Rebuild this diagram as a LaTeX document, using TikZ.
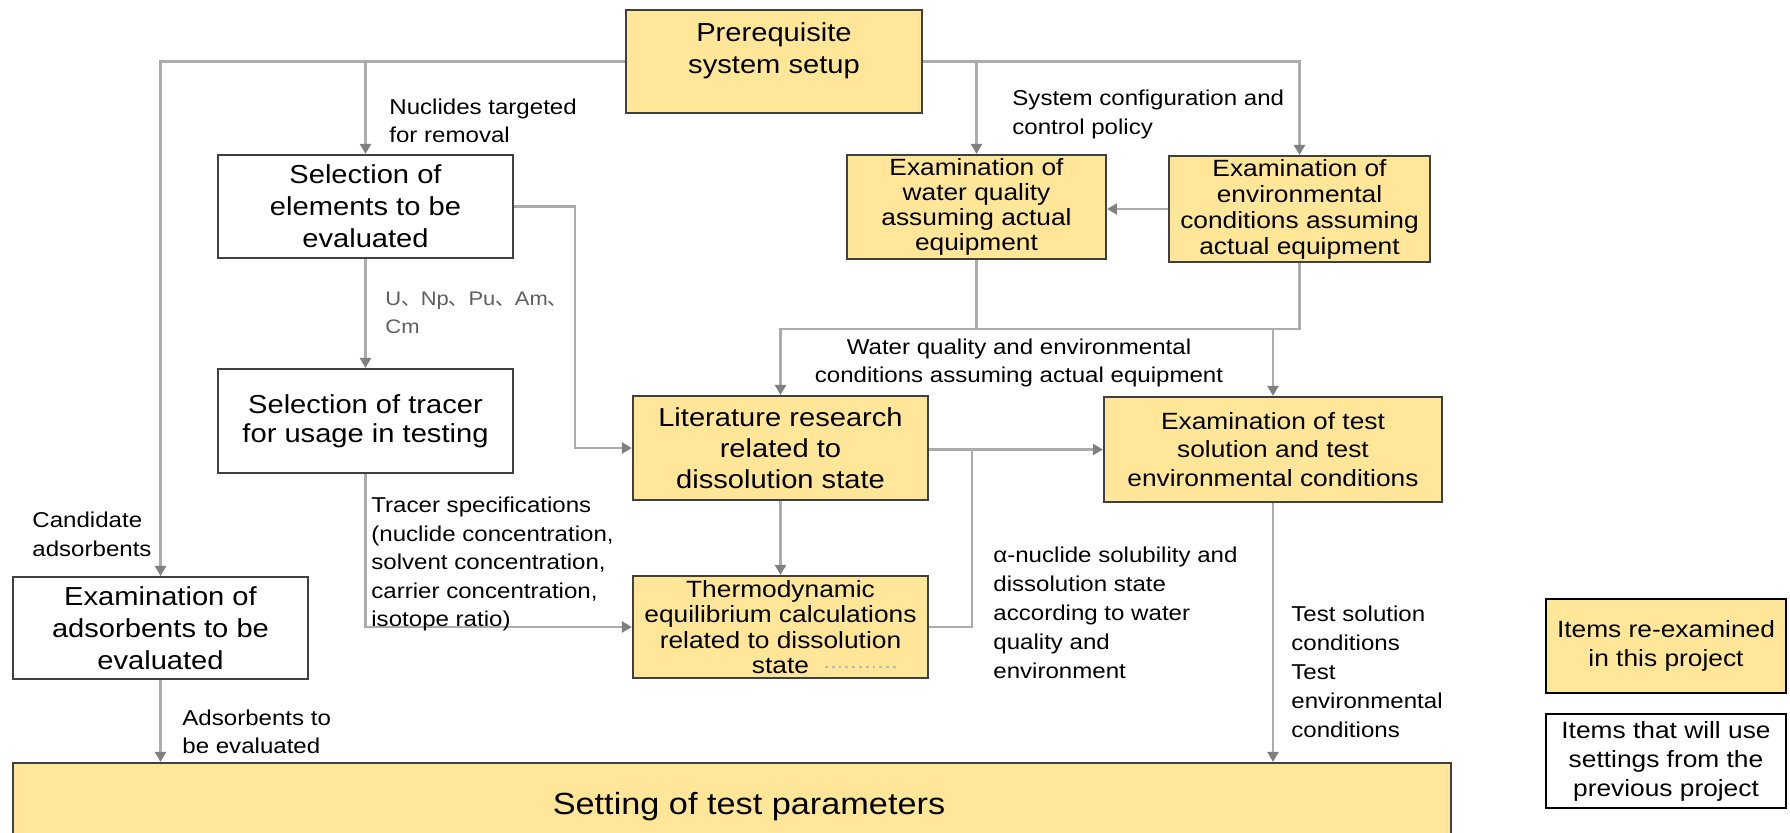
\documentclass[tikz,border=0pt]{standalone}
\usepackage{fontspec}
\setmainfont{Liberation Sans}[FakeStretch=1.12]
\newfontfamily\cjkfont{Noto Sans CJK JP}
\usetikzlibrary{arrows.meta, calc}
\definecolor{ItemYellow}{RGB}{255, 230, 153}
\definecolor{BoxEdge}{RGB}{64, 64, 64}
\definecolor{LinkGray}{RGB}{172, 172, 172}
\definecolor{TipGray}{RGB}{128, 128, 128}
\definecolor{NoteGray}{RGB}{95, 95, 95}
\newcommand{\bxf}[1]{\fontsize{11.75}{#1}\selectfont}
\newcommand{\bgf}[1]{\fontsize{13}{#1}\selectfont}
\newcommand{\lbf}[1]{\fontsize{10.75}{#1}\selectfont}
\newcommand{\ics}{{\cjkfont 、}}

\begin{document}
\begin{tikzpicture}[
    x=0.5pt, y=-0.5pt,
    item/.style={draw=BoxEdge, line width=1.1pt, fill=ItemYellow, align=center, inner sep=0pt},
    prev/.style={item, fill=white},
    legend/.style={item, draw=black, line width=1.3pt, minimum width=120pt, minimum height=47pt, font=\bxf{14.5}},
    note/.style={align=left, inner sep=0pt, anchor=north west},
    link/.style={draw=LinkGray, line width=1.2pt},
    flow/.style={link, -{Triangle[length=5pt, width=5.5pt, color=TipGray]}}
  ]
    \useasboundingbox (0,0) rectangle (1790,832);

    % Top
    \node[item, minimum width=148pt, minimum height=51.5pt, font=\bgf{16}] (prq) at (774, 61.5) {Prerequisite\\system setup\\[-3pt]\mbox{}};

    % Left column
    \node[prev, minimum width=147.5pt, minimum height=51.5pt, font=\bgf{16}] (sel) at (365.5, 206.5) {Selection of\\elements to be\\evaluated};
    \node[prev, minimum width=147.5pt, minimum height=52pt, font=\bgf{14.5}] (trc) at (365.5, 421) {Selection of tracer\\for usage in testing};
    \node[prev, minimum width=147.5pt, minimum height=51pt, font=\bgf{16}] (ads) at (160.5, 628) {Examination of\\adsorbents to be\\evaluated};

    % Middle and right
    \node[item, minimum width=129.5pt, minimum height=52pt, font=\bxf{12.6}] (wat) at (976.5, 207) {Examination of\\water quality\\assuming actual\\equipment};
    \node[item, minimum width=130.5pt, minimum height=53pt, font=\bxf{13}] (env) at (1299.5, 209) {Examination of\\environmental\\conditions assuming\\actual equipment};
    \node[item, minimum width=147.5pt, minimum height=52pt, font=\bgf{15.5}] (lit) at (780.5, 448) {Literature research\\related to\\dissolution state};
    \node[item, minimum width=147.5pt, minimum height=51pt, font=\bxf{12.8}] (thm) at (780.5, 627) {Thermodynamic\\equilibrium calculations\\related to dissolution\\state};
    \node[item, minimum width=169pt, minimum height=52.5pt, font=\bxf{14.3}] (tst) at (1273, 449.5) {Examination of test\\solution and test\\environmental conditions};

    % Bottom
    \node[item, minimum width=719pt, minimum height=44pt, font=\fontsize{15.3}{18}\selectfont] (set) at (732, 807) {\hspace*{17pt}Setting of test parameters};

    % Legend
    \node[legend] (lgnew) at (1666, 646) {Items re-examined\\in this project};
    \node[legend, fill=white] (lgold) at (1666, 761) {Items that will use\\settings from the\\previous project};

    % Junctions
    \coordinate (jwq) at (0, 329);
    \coordinate (jth) at (972, 449);

    % Prerequisite -> left
    \draw[flow] (prq.west) -| (ads.north);
    \draw[flow] (sel.north |- prq.west) -- (sel.north);
    % Prerequisite -> right
    \draw[flow] (prq.east) -| (env.north);
    \draw[flow] (wat.north |- prq.east) -- (wat.north);
    \draw[flow] (env.west) -- (env.west -| wat.east);

    % Elements / tracer
    \draw[flow] (sel.south) -- (trc.north);
    \draw[flow] (sel.east) -- ++(61, 0) |- (lit.west);
    \draw[flow] (trc.south) |- (thm.west);

    % Water quality and environment
    \draw[link] (wat.south) -- (wat.south |- jwq);
    \draw[flow] (env.south) |- (lit.north |- jwq) -- (lit.north);
    \draw[flow] (tst.north |- jwq) -- (tst.north);

    % Dissolution state
    \draw[flow] (lit.south) -- (thm.north);
    \draw[flow] (lit.east |- tst.west) -- (tst.west);
    \draw[link] (thm.east) -| (jth);
    \draw[gray!55, dotted, line width=1.4pt] (825, 667) -- (897, 667);

    % Into the setting
    \draw[flow] (ads.south) -- (ads.south |- set.north);
    \draw[flow] (tst.south) -- (tst.south |- set.north);

    % Labels
    \node[note, font=\lbf{14}] (lnuc) at (389, 99) {Nuclides targeted\\for removal};
    \node[note, font=\fontsize{9.8}{14}\selectfont, text=NoteGray] (lelm) at (385, 292) {U\ics Np\ics Pu\ics Am\ics\\Cm};
    \node[note, font=\lbf{14.25}] (ltrc) at (371, 497) {Tracer specifications\\(nuclide concentration,\\solvent concentration,\\carrier concentration,\\isotope ratio)};
    \node[note, font=\lbf{14.5}] (lcnd) at (32, 512) {Candidate\\adsorbents};
    \node[note, font=\lbf{14}] (lads) at (182, 710) {Adsorbents to\\be evaluated};
    \node[note, font=\lbf{14.5}] (lsys) at (1012, 90) {System configuration and\\control policy};
    \node[align=center, inner sep=0pt, anchor=north, font=\lbf{14}] (lwqe) at (1019, 339) {Water quality and environmental\\conditions assuming actual equipment};
    \node[note, font=\lbf{14.5}] (lalp) at (993, 547) {α-nuclide solubility and\\dissolution state\\according to water\\quality and\\environment};
    \node[note, font=\lbf{14.5}] (ltst) at (1291, 606) {Test solution\\conditions\\Test\\environmental\\conditions};
  \end{tikzpicture}
\end{document}
